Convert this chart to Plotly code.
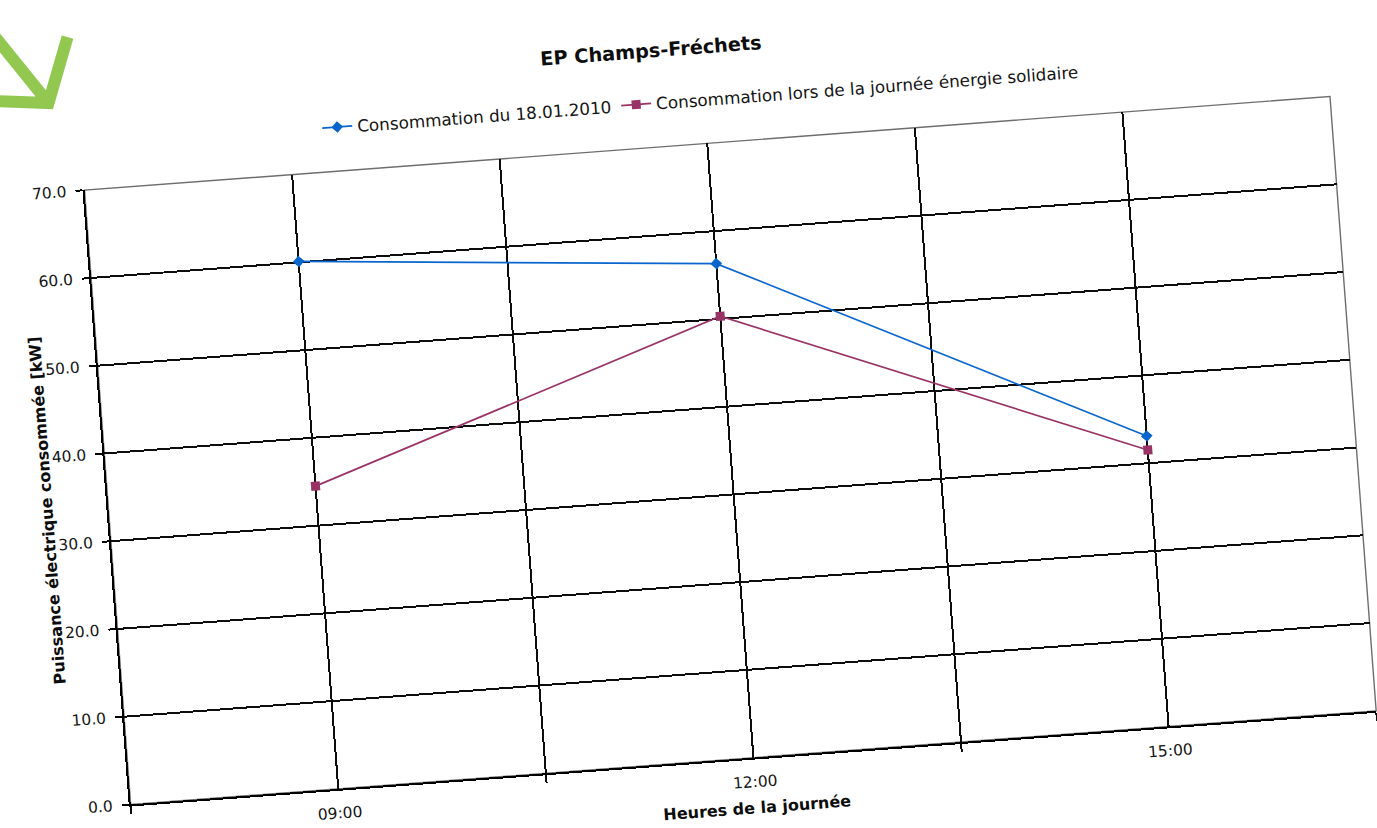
import math
import plotly.graph_objects as go

# ---- data -------------------------------------------------------------
hours = [9, 12, 15]
hour_labels = ["09:00", "12:00", "15:00"]
conso_18_01_2010 = [60.1, 56.3, 33.1]
conso_journee_solidaire = [34.5, 50.3, 31.5]

series_names = [
    "Consommation du 18.01.2010",
    "Consommation lors de la journée énergie solidaire",
]

# ---- page geometry (figure is drawn flat, then tilted on the page) ------
TILT_DEG = 4.3
SHIFT = 20
W, H = 1397, 900
ML, MR, MT, MB = 89.5, 58, 196, 87.5
PW, PH = W - ML - MR, H - MT - MB
C, S = math.cos(math.radians(TILT_DEG)), math.sin(math.radians(TILT_DEG))


def page_to_fig(x, y):
    """Position on the tilted page -> pixel inside the flat figure."""
    return x * C - y * S + SHIFT, y * C + x * S


def fig_to_paper(xf, yf):
    return (xf - ML) / PW, 1 - (yf - MT) / PH


def page_to_paper(x, y):
    return fig_to_paper(*page_to_fig(x, y))


FONT = "DejaVu Sans"
BLUE = "#0a66cc"
PLUM = "#993366"
GRID = "#0d0d0d"
TEXT = "#151515"

fig = go.Figure()
fig.add_trace(go.Scatter(
    x=hours, y=conso_18_01_2010, name=series_names[0],
    mode="lines+markers",
    line=dict(color=BLUE, width=1.7),
    marker=dict(symbol="diamond", size=9, color=BLUE),
))
fig.add_trace(go.Scatter(
    x=hours, y=conso_journee_solidaire, name=series_names[1],
    mode="lines+markers",
    line=dict(color=PLUM, width=1.7),
    marker=dict(symbol="square", size=9, color=PLUM),
))

# green hand-drawn style arrow in the top-left corner
s0 = page_to_paper(-15, 25)
tip = page_to_paper(48, 103)
a1 = page_to_paper(67, 37)
a2 = page_to_paper(-10, 101)
arrow_path = (f"M{a1[0]},{a1[1]} L{tip[0]},{tip[1]} L{a2[0]},{a2[1]} "
              f"M{s0[0]},{s0[1]} L{tip[0]},{tip[1]}")

yt_x, yt_y = page_to_paper(47, 511)

fig.update_layout(
    width=W, height=H,
    margin=dict(l=ML, r=MR, t=MT, b=MB, pad=0),
    paper_bgcolor="white", plot_bgcolor="white",
    font=dict(family=FONT, color=TEXT),
    title=dict(
        text="EP Champs-Fréchets",
        font=dict(family=FONT, size=19.3, weight="bold", color="#0d0d0d"),
        x=665.3 / W, xref="container", xanchor="center",
        y=1 - 99.3 / H, yref="container", yanchor="middle",
    ),
    legend=dict(
        orientation="h", x=0.497, xanchor="center",
        y=1 + (MT - 152) / PH, yanchor="middle",
        font=dict(family=FONT, size=16.8, color=TEXT),
        bgcolor="rgba(0,0,0,0)", itemwidth=30,
    ),
    showlegend=True,
    shapes=[
        dict(type="rect", xref="paper", yref="paper", x0=0, y0=0, x1=1, y1=1,
             line=dict(color="#6e6e6e", width=1.4), layer="below"),
        dict(type="path", xref="paper", yref="paper", path=arrow_path,
             line=dict(color="#92c850", width=12)),
    ],
    annotations=[
        dict(text="Puissance électrique consommée [kW]", textangle=-90,
             xref="paper", yref="paper", x=yt_x, y=yt_y,
             xanchor="center", yanchor="middle", showarrow=False,
             font=dict(family=FONT, size=16, weight="bold", color="#0d0d0d")),
    ],
)

fig.update_xaxes(
    range=[7.5, 16.5],
    tickmode="array", tickvals=hours, ticktext=hour_labels,
    ticks="", ticklabelstandoff=9,
    tickfont=dict(family=FONT, size=15.5, color=TEXT),
    showgrid=True, gridcolor=GRID, gridwidth=1.7,
    minor=dict(tickmode="array", tickvals=[7.5, 10.5, 13.5, 16.5],
               showgrid=True, gridcolor=GRID, gridwidth=1.7,
               ticks="outside", ticklen=8, tickcolor=GRID, tickwidth=1.5),
    showline=True, linecolor="black", linewidth=2,
    zeroline=False,
    title=dict(text="Heures de la journée", standoff=12,
               font=dict(family=FONT, size=16, weight="bold", color="#0d0d0d")),
)
fig.update_yaxes(
    range=[0, 70], tickmode="linear", tick0=0, dtick=10, tickformat=".1f",
    ticks="outside", ticklen=7, tickcolor="black", tickwidth=1.6,
    ticklabelstandoff=6,
    tickfont=dict(family=FONT, size=15.5, color=TEXT),
    showgrid=True, gridcolor=GRID, gridwidth=1.7,
    showline=True, linecolor="black", linewidth=2,
    zeroline=False,
)

tilt_js = """
var gd = document.getElementById('{plot_id}');
document.documentElement.style.overflow = 'hidden';
document.body.style.margin = '0';
document.body.style.overflow = 'hidden';
gd.style.transformOrigin = '0 0';
gd.style.transform = 'rotate(-%sdeg) translate(-%spx, 0px)';
""" % (TILT_DEG, SHIFT)

fig.write_html("out.html", config={"displayModeBar": False}, post_script=tilt_js)
